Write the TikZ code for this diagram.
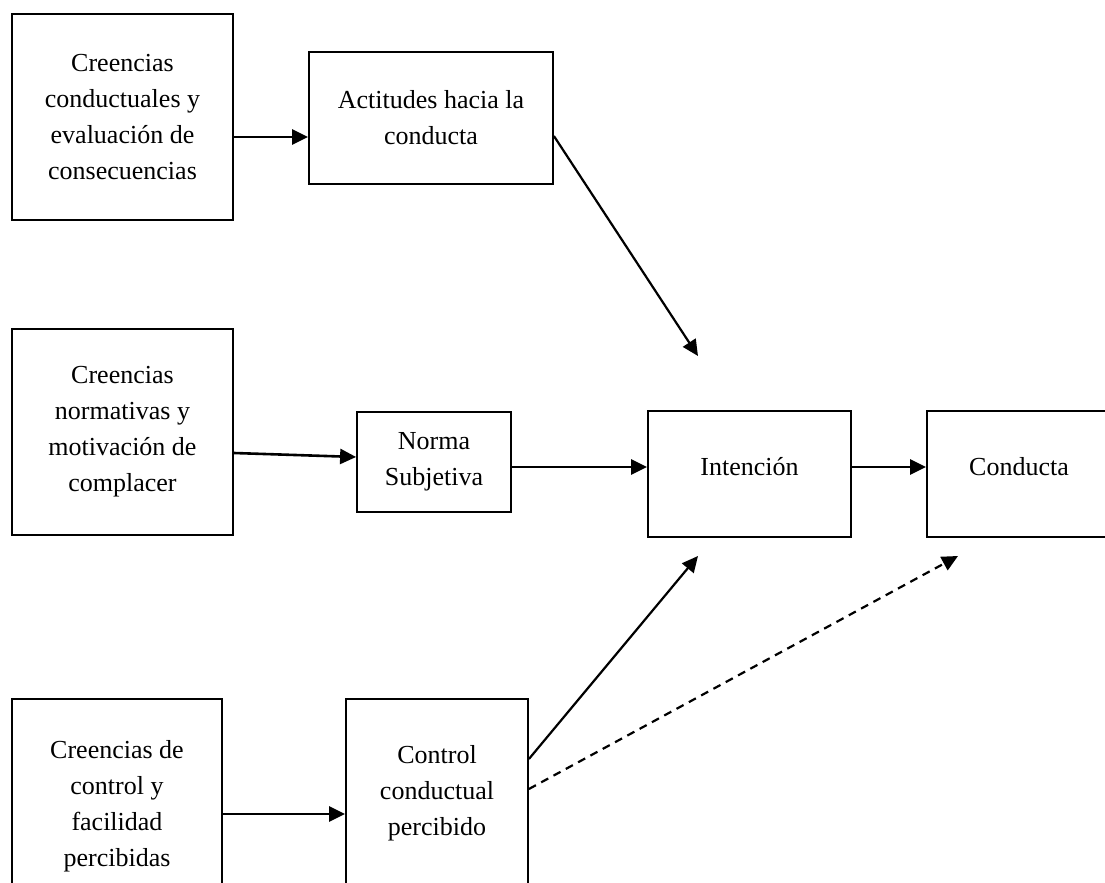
\documentclass[tikz,border=0pt]{standalone}
\usepackage{fontspec}
\setmainfont{Liberation Serif}
\usepackage{tikz}
\usetikzlibrary{arrows.meta}
\definecolor{ink}{HTML}{000000}
\tikzset{
  box/.style={draw=ink,line width=.9pt,align=center,inner sep=3pt,font={\fontsize{13pt}{18pt}\selectfont},fill=white},
  arr/.style={-{Triangle[length=8pt,width=7.5pt]},line width=1.3pt,draw=ink},
  dasharr/.style={arr,line width=1.1pt,dash pattern=on 4pt off 3pt}
}
\begin{document}
\begin{tikzpicture}[x=0.5pt,y=-0.5pt]
\useasboundingbox (0,0) rectangle (1105,883);
\clip (0,0) rectangle (1105,883);
% left column: beliefs
\node[box,minimum width=110.5pt,minimum height=103pt] (creenConduct) at (122.5,117) {Creencias\\conductuales y\\evaluación de\\consecuencias};
\node[box,minimum width=110.5pt,minimum height=103pt] (creenNorm) at (122.5,432) {Creencias\\normativas y\\motivación de\\complacer};
\node[box,minimum width=105pt,minimum height=107.5pt] (creenCtrl) at (117,806.5) {Creencias de\\control y\\facilidad\\percibidas};
% middle column
\node[box,minimum width=122pt,minimum height=66pt] (actitud) at (431,118) {Actitudes hacia la\\conducta};
\node[box,minimum width=77pt,minimum height=50pt] (norma) at (434,462) {Norma\\Subjetiva};
\node[box,minimum width=91pt,minimum height=94pt] (control) at (437,793) {Control\\conductual\\percibido};
% right
\node[box,minimum width=101.5pt,minimum height=63pt] (intencion) at (749.5,474) {Intención\\[-10pt]};
\node[box,minimum width=92pt,minimum height=63pt] (conducta) at (1019,474) {Conducta\\[-10pt]};
\coordinate (tipA) at (698,356);
\coordinate (tipB) at (698,556);
\coordinate (tipC) at (958,556);
\draw[arr] ([yshift=-10pt]creenConduct.east) -- ([yshift=-9.5pt]actitud.west);
\draw[arr,line width=1.1pt] ([yshift=-9pt]actitud.east) -- (tipA);
\draw[arr] ([yshift=-10.5pt]creenNorm.east) -- ([yshift=2.5pt]norma.west);
\draw[arr] ([yshift=-2.5pt]norma.east) -- ([yshift=3.5pt]intencion.west);
\draw[arr] ([yshift=3.5pt]intencion.east) -- ([yshift=3.5pt]conducta.west);
\draw[arr] ([yshift=-3.75pt]creenCtrl.east) -- ([yshift=-10.5pt]control.west);
\draw[arr,line width=1.1pt] ([yshift=17pt]control.east) -- (tipB);
\draw[dasharr] ([yshift=2pt]control.east) -- (tipC);
\end{tikzpicture}
\end{document}
